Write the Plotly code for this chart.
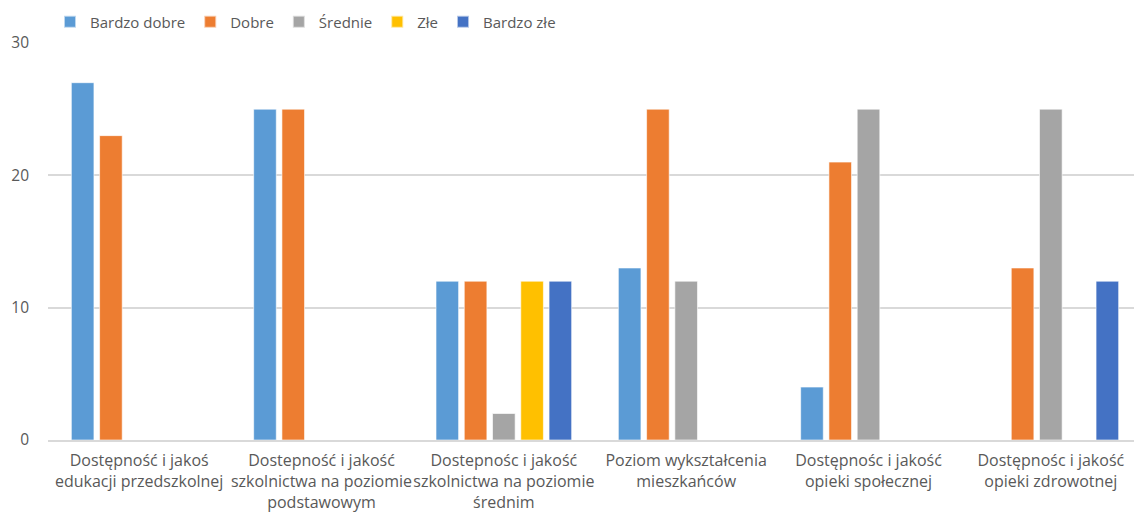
import plotly.graph_objects as go

categories = [
    "Dostępność i jakoś<br>edukacji przedszkolnej",
    "Dostepność i jakość<br>szkolnictwa na poziomie<br>podstawowym",
    "Dostepnośc i jakość<br>szkolnictwa na poziomie<br>średnim",
    "Poziom wykształcenia<br>mieszkańców",
    "Dostępnośc i jakość<br>opieki społecznej",
    "Dostępnośc i jakość<br>opieki zdrowotnej",
]
series_names = ["Bardzo dobre", "Dobre", "Średnie", "Złe", "Bardzo złe"]
bardzo_dobre = [27, 25, 12, 13, 4, 0]
dobre = [23, 25, 12, 25, 21, 13]
srednie = [0, 0, 2, 12, 25, 25]
zle = [0, 0, 12, 0, 0, 0]
bardzo_zle = [0, 0, 12, 0, 0, 12]
y_ticks = [0, 10, 20, 30]

colors = ["#5B9BD5", "#ED7D31", "#A5A5A5", "#FFC000", "#4472C4"]
values = [bardzo_dobre, dobre, srednie, zle, bardzo_zle]

fig = go.Figure()
for name, vals, c in zip(series_names, values, colors):
    fig.add_trace(go.Bar(
        x=categories, y=vals, name=name,
        marker=dict(color=c, line=dict(color="rgba(255,255,255,0.6)", width=1)),
    ))

# page body has an 8px default margin; compensate in figure size/margins
W, H = 1134, 504
fig.update_layout(
    width=W, height=H,
    margin=dict(l=40, r=0, t=35, b=72, autoexpand=False),
    paper_bgcolor="white", plot_bgcolor="white",
    barmode="group", bargap=0.225, bargroupgap=0.2,
    font=dict(family="Open Sans, Liberation Sans, sans-serif", size=15.5, color="#595959"),
    legend=dict(orientation="h", x=42 / W, xanchor="left", xref="container",
                y=1 - 14 / H, yanchor="middle", yref="container",
                font=dict(size=15, color="#595959"), traceorder="normal",
                itemwidth=30, itemsizing="constant"),
    showlegend=True,
)
fig.update_xaxes(showgrid=False, showline=True, linecolor="#D9D9D9", linewidth=1.5,
                 tickfont=dict(size=16, color="#595959"), ticks="", automargin=False,
                 tickangle=0, ticklabelstandoff=5)
fig.update_yaxes(range=[0, 30], tickvals=y_ticks, showgrid=True, gridcolor="#D9D9D9",
                 gridwidth=1.5, zeroline=False, showline=False, ticks="", automargin=False,
                 tickfont=dict(size=15.5, color="#595959"), ticklabelstandoff=18)

fig.write_html("out.html")
